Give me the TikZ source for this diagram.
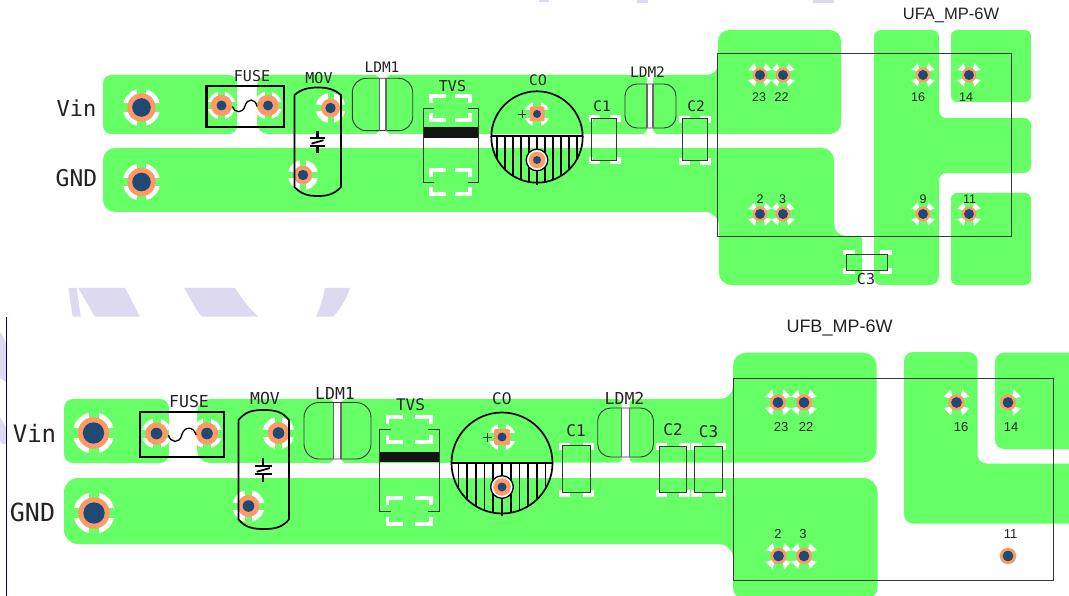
\documentclass[tikz,border=0pt]{standalone}
\usepackage{fontspec}
\setmainfont{Liberation Sans}
\newfontfamily\pcbmono{DejaVu Sans Mono}
\newfontfamily\plainzero{DejaVu Sans}
\definecolor{cu}{HTML}{66FF66}
\definecolor{padorange}{HTML}{FF9966}
\definecolor{padblue}{HTML}{1F4A73}
\definecolor{mark}{HTML}{DCD9F0}
\definecolor{ink}{HTML}{222222}
\tikzset{
  copper/.style={fill=cu,draw=none},
  mk/.style={fill=mark,draw=none},
  whitebar/.style={draw=white,line width=3.6pt,line cap=butt,line join=miter},
  thinline/.style={draw=ink!90,line width=0.9pt},
  sideline/.style={draw=black!60,line width=1.1pt},
  heavy/.style={draw=black,line width=1.7pt},
  wave/.style={draw=black,line width=1.3pt},
  hatchline/.style={draw=black,line width=1.7pt},
  silk/.style={inner sep=0pt,text=ink,font=\pcbmono},
  num/.style={inner sep=0pt,text=ink}
}
% text: name x y size text
\newcommand{\silktext}[5]{\node[silk] (#1) at (#2,#3) {\fontsize{#4}{#4}\selectfont #5};}
\newcommand{\numtext}[5]{\node[num] (#1) at (#2,#3) {\fontsize{#4}{#4}\selectfont #5};}
% pad: x y rorange rblue
\newcommand{\padd}[4]{\fill[padorange] (#1,#2) circle[radius=#3]; \fill[padblue] (#1,#2) circle[radius=#4];}
% ring thermal: x y r spoke
\newcommand{\ringth}[4]{\fill[white] (#1,#2) circle[radius=#3];
  \fill[cu] (#1-#4/2,#2-#3-0.5) rectangle (#1+#4/2,#2+#3+0.5);
  \fill[cu] (#1-#3-0.5,#2-#4/2) rectangle (#1+#3+0.5,#2+#4/2);}
% corner wedge: x y sx sy L
\newcommand{\cornerw}[5]{\fill[white] (#1+#3*0.46*#5,#2+#4*1.03*#5) -- (#1+#3*1.03*#5,#2+#4*0.46*#5) -- (#1+#3*0.28*#5,#2+#4*0.28*#5) -- cycle;}
\newcommand{\cornerws}[3]{\cornerw{#1}{#2}{1}{1}{#3}\cornerw{#1}{#2}{1}{-1}{#3}\cornerw{#1}{#2}{-1}{1}{#3}\cornerw{#1}{#2}{-1}{-1}{#3}}
% brackets: outer x0 y0 x1 y1 armx army
\newcommand{\bracketset}[6]{
  \draw[whitebar] (#1+#5,#2+1.8) -- (#1+1.8,#2+1.8) -- (#1+1.8,#2+#6);
  \draw[whitebar] (#3-#5,#2+1.8) -- (#3-1.8,#2+1.8) -- (#3-1.8,#2+#6);
  \draw[whitebar] (#1+#5,#4-1.8) -- (#1+1.8,#4-1.8) -- (#1+1.8,#4-#6);
  \draw[whitebar] (#3-#5,#4-1.8) -- (#3-1.8,#4-1.8) -- (#3-1.8,#4-#6);}
% LDM gap: x0 x1 y0 y1
\newcommand{\ldmgap}[4]{\fill[white] (#1-3.5,#3) -- (#1,#3+3) -- (#1,#4-3) -- (#1-3.5,#4) -- (#2+3.5,#4) -- (#2,#4-3) -- (#2,#3+3) -- (#2+3.5,#3) -- cycle;}
% LDM outline: x0 y0 x1 y1 stripx0 stripx1 r
\newcommand{\ldmbody}[7]{\draw[thinline,rounded corners=#7] (#1,#2) rectangle (#3,#4);
  \draw[sideline] (#5,#2) -- (#5,#4); \draw[sideline] (#6,#2) -- (#6,#4);}
% TVS: x0 y0 x1 y1 bandy0 bandy1 stub
\newcommand{\tvsbody}[7]{
  \draw[thinline] (#1+#7,#2) -- (#1,#2) -- (#1,#4) -- (#1+#7,#4);
  \draw[thinline] (#3-#7,#2) -- (#3,#2) -- (#3,#4) -- (#3-#7,#4);
  \fill[black!92] (#1,#5) rectangle (#3,#6);}
% MOV symbol: x y scale
\newcommand{\movsym}[3]{\begin{scope}[shift={(#1,#2)},scale=#3]
  \draw[draw=black,line width=2.2pt] (0,-11) -- (0,-3.8) (-7.5,-3.8) -- (7.5,-3.8)
   (-7.5,3.8) -- (7.5,3.8) (0,3.8) -- (0,11);
  \draw[draw=black,line width=1.8pt] (-6,1.6) -- (6,-1.8);
  \end{scope}}
% MOV outline: x0 x1 ytop ysidetop ysidebot ybot
\newcommand{\movline}[6]{\draw[heavy] (#1,#4)
  .. controls (#1+7,#3+1.5) and (#1+14,#3) .. ({(#1+#2)/2},#3)
  .. controls (#2-14,#3) and (#2-7,#3+1.5) .. (#2,#4) -- (#2,#5)
  .. controls (#2-7,#6-1.5) and (#2-14,#6) .. ({(#1+#2)/2},#6)
  .. controls (#1+14,#6) and (#1+7,#6-1.5) .. (#1,#5) -- cycle;}
% C0 body: cx cy r hy spacing
\newcommand{\czero}[5]{
  \begin{scope}
   \clip (#1-#3,#4) rectangle (#1+#3,#2+#3);
   \clip (#1,#2) circle[radius=#3];
   \foreach \k in {-5,...,5}{\draw[hatchline] (#1+\k*#5,#4) -- (#1+\k*#5,#2+#3);}
  \end{scope}
  \draw[heavy] (#1,#2) circle[radius=#3];
  \draw[heavy] (#1-#3,#4) -- (#1+#3,#4);
  \draw[hatchline] (#1,#2+#3-3) -- (#1,#2+#3+2);}
\begin{document}
\begin{tikzpicture}[x=1pt,y=-1pt]
\useasboundingbox (0,0) rectangle (1069,596);
\clip (0,0) rectangle (1069,596);
\fill[white] (0,0) rectangle (1069,596);
% pale background marks
\fill[mk] (68.3,288) -- (76.7,288) -- (80.7,316.7) -- (72.7,316.7) -- cycle;
\fill[mk] (78.3,288) -- (125,288) -- (140,316.7) -- (95,316.7) -- cycle;
\fill[mk] (184.3,288) -- (235,288) .. controls (242,299) and (250,309) .. (258.3,316.7) -- (201.7,316.7) .. controls (195,308) and (190,298) .. (184.3,288) -- cycle;
\fill[mk] (325,288) -- (350,288) .. controls (346,300) and (340,309) .. (333.3,316.7) -- (316,316.7) .. controls (320,308) and (323,298) .. (325,288) -- cycle;
\fill[mk] (0,332) .. controls (3,336) and (5,340) .. (6,345) -- (6,382) -- (0,378) -- cycle;
\fill[mk] (0,417) -- (6,427) -- (6,444) -- (2,444) -- (0,440) -- cycle;
\fill[mk] (539,0) rectangle (549,2.5);
\fill[mk] (637,0) rectangle (648,3);
\fill[mk] (813,0) rectangle (834,3);
\draw[draw=blue!55!black,line width=1pt] (6.3,317) -- (6.3,596);

% ===== top board copper =====
\path[copper,rounded corners=8] (103,75) rectangle (237,134);
\path[copper,rounded corners=11] (257,75) -- (718,75) -- (718,30) -- (841,30) -- (841,134) -- (257,134) -- cycle;
\path[copper,rounded corners=12] (103,148) -- (834,148) -- (834,236) [rounded corners=3] -- (862,236) [rounded corners=12] -- (862,285) -- (719,285) [rounded corners=14] -- (719,212) [rounded corners=12] -- (103,212) -- cycle;
\path[copper,rounded corners=7] (874,30) -- (939,30) -- (939,118) -- (1031,118) -- (1031,173) -- (939,173) [rounded corners=9] -- (939,285) [rounded corners=7] -- (874,285) -- cycle;
\path[copper,rounded corners=6] (951,30) rectangle (1031,102);
\path[copper,rounded corners=6] (951,193) rectangle (1031,285);

% ===== bottom board copper =====
\path[copper,rounded corners=9] (64,399) rectangle (169,463);
\path[copper,rounded corners=13] (197,399) -- (733,399) -- (733,352.7) -- (876.5,352.7) -- (876.5,462.5) -- (197,463) -- cycle;
\path[copper,rounded corners=14] (64,478) -- (877.5,478) -- (877.5,601) -- (733,601) -- (733,544) -- (64,544) -- cycle;
\path[copper,rounded corners=9] (904,352) -- (977.5,352) -- (977.5,463.5) -- (1090,463.5) -- (1090,523.5) -- (904,523.5) -- cycle;
\path[copper,rounded corners=9] (995,352.7) rectangle (1090,449);

% ===== thermals top =====
\ringth{141.5}{107.5}{18.7}{8.7}
\ringth{141.5}{182}{18.7}{8.7}
\ringth{221.5}{105.5}{14}{7}
\ringth{268}{105.5}{14}{7}
\ringth{330.5}{108}{15}{6}
\ringth{303}{175}{15}{6}
\ringth{537}{114}{12.5}{7.5}
\cornerws{760}{75}{11.3}\cornerws{783}{75}{11.3}\cornerws{923}{75}{11.3}\cornerws{969}{75}{11.3}
\cornerws{760}{214}{11.3}\cornerws{783}{214}{11.3}\cornerws{923}{214}{11.3}\cornerws{969}{214}{11.3}
% ===== thermals bottom =====
\ringth{93.5}{433}{20.7}{10}
\ringth{94}{513}{20.7}{10}
\ringth{156.5}{433.5}{15}{8}
\ringth{207}{433.5}{15}{8}
\ringth{278.5}{433}{16}{7}
\ringth{248.5}{506}{16}{7}
\ringth{502}{437}{13.5}{8}
\cornerws{778}{402.5}{12.5}\cornerws{804}{402.5}{12.5}\cornerws{956.5}{402.5}{12.5}
\cornerw{1008}{402.5}{1}{1}{12.5}\cornerw{1008}{402.5}{1}{-1}{12.5}
\cornerws{778.5}{556}{12.5}\cornerws{804}{556}{12.5}

% gaps in copper
\fill[white] (237,75) rectangle (257,134);
\fill[white] (169,399) rectangle (197,463);
\ldmgap{379.5}{386}{75}{134}
\ldmgap{647}{653}{75}{134}
\ldmgap{333.5}{341}{399}{463}
\ldmgap{621.7}{629.5}{399}{463}

% white pad brackets
\bracketset{429}{94.5}{472}{122}{17}{9}
\bracketset{429}{168}{472}{196}{17}{9}
\bracketset{385.5}{415}{432.5}{444}{17.5}{9}
\bracketset{385.5}{496}{432.5}{525.5}{17.5}{9}
\bracketset{589}{115}{620.7}{164}{11}{7}
\bracketset{679}{115.7}{710.7}{165}{11}{7}
\bracketset{843}{250}{891.5}{274}{12}{5.5}
\bracketset{559}{442.7}{593.5}{496.5}{11}{7}
\bracketset{656}{443}{690}{496.5}{11}{7}
\bracketset{690.5}{443}{726}{496.5}{11}{7}

% ===== pads top =====
\padd{141.5}{107.5}{14.2}{9.3}
\padd{141.5}{182}{14.2}{9.3}
\padd{221.5}{105.5}{10.7}{5}
\padd{268}{105.5}{10.7}{5}
\padd{330.5}{108}{9.4}{5.2}
\padd{303}{175}{9.4}{5.2}
\foreach \px/\py in {760/75,783/75,923/75,969/75,760/214,783/214,923/214,969/214}{\padd{\px}{\py}{7.4}{5}}
% ===== pads bottom =====
\padd{93.5}{433}{15.7}{10.7}
\padd{94}{513}{15.7}{10.7}
\padd{156.5}{433.5}{11.2}{5.8}
\padd{207}{433.5}{11.2}{5.8}
\padd{278.5}{433}{11}{5.8}
\padd{248.5}{506}{11}{5.8}
\foreach \px/\py in {778/402.5,804/402.5,956.5/402.5,1008/402.5,778.5/556,804/556,1008/556}{\padd{\px}{\py}{8.2}{5.4}}

% ===== fuses =====
\draw[draw=black,line width=2.2pt] (206.5,86) rectangle (284,127);
\draw[wave] (232.7,106.5) .. controls (234,113) and (243,114) .. (245,106) .. controls (247,98) and (255.5,98) .. (257,106.5);
\draw[draw=black,line width=2.2pt] (140,412) rectangle (224,457);
\draw[wave] (168.5,435) .. controls (170,443) and (180,444) .. (181.7,435) .. controls (184,426) and (194,426) .. (196,435);

% ===== MOV =====
\movline{294.5}{341}{87.5}{95}{187}{196}
\movsym{317.5}{142}{1}
\movline{238.5}{289}{410}{420}{519.5}{529}
\movsym{263.3}{470}{1.1}

% ===== LDM =====
\ldmbody{352.3}{78.3}{412.7}{130.7}{379.5}{386}{14}
\ldmbody{625}{84}{676}{128}{647}{653}{12}
\ldmbody{304}{402.5}{371}{459}{333.5}{341}{15}
\ldmbody{597.7}{408}{653.5}{457}{621.7}{629.5}{13}

% ===== TVS =====
\tvsbody{423.5}{108}{478}{182}{127.5}{138}{10.5}
\tvsbody{379.5}{429}{439}{511}{452}{462}{11.5}

% ===== C0 =====
\czero{537}{137}{45.7}{136}{8}
\fill[padorange,rounded corners=1.5] (529.5,106.5) rectangle (544.5,121.5);
\fill[padblue] (537,114) circle[radius=4];
\draw[thinline] (518,114.5) -- (526,114.5) (522,110.5) -- (522,118.5);
\draw[draw=black,line width=1.3pt,fill=white] (537,160) circle[radius=10.8];
\padd{537}{160}{8.3}{4}
\czero{502}{463}{50.5}{463}{8.7}
\fill[padorange,rounded corners=1.5] (494,429) rectangle (510,445);
\fill[padblue] (502,437) circle[radius=4.5];
\draw[thinline] (482.5,437.5) -- (491.5,437.5) (487,433) -- (487,442);
\draw[draw=black,line width=1.3pt,fill=white] (502,487) circle[radius=11.3];
\padd{502}{487}{8.8}{4.5}

% ===== small capacitors and module outlines =====
\draw[thinline] (591.5,118) rectangle (616.5,160);
\draw[thinline] (682.7,118) rectangle (707.7,160);
\draw[thinline] (846,254) rectangle (887.5,270.5);
\draw[thinline] (562.7,445.7) rectangle (590.5,492.5);
\draw[thinline] (659,446) rectangle (686,492.5);
\draw[thinline] (694,446) rectangle (722,492.5);
\draw[thinline] (717.5,53) rectangle (1011.7,236);
\draw[thinline] (733.5,378.3) rectangle (1053.5,580);

% ===== silk labels, top =====
\silktext{vinA}{76.5}{108}{22}{Vin}
\silktext{gndA}{76.5}{178}{23}{GND}
\silktext{fuseA}{252}{76.5}{15}{FUSE}
\silktext{movA}{319}{78.5}{15}{MOV}
\silktext{ldmoneA}{382}{67}{14.5}{LDM1}
\silktext{tvsA}{452.5}{86}{15}{TVS}
\silktext{czeroA}{538}{80.5}{14.5}{C{\plainzero 0}}
\silktext{ldmtwoA}{647.5}{72.5}{14.5}{LDM2}
\silktext{coneA}{602}{106}{14.5}{C1}
\silktext{ctwoA}{696}{106.5}{14.5}{C2}
\silktext{cthreeA}{866}{279}{15}{C3}
% ===== silk labels, bottom =====
\silktext{vinB}{34.5}{433}{24}{Vin}
\silktext{gndB}{32.5}{512}{25}{GND}
\silktext{fuseB}{189}{401}{16.5}{FUSE}
\silktext{movB}{265}{398}{16.5}{MOV}
\silktext{ldmoneB}{335}{393}{16.5}{LDM1}
\silktext{tvsB}{410.5}{405}{16}{TVS}
\silktext{czeroB}{502}{399}{16}{C{\plainzero 0}}
\silktext{ldmtwoB}{624.5}{398}{16.5}{LDM2}
\silktext{coneB}{576}{431}{16}{C1}
\silktext{ctwoB}{673}{430}{16}{C2}
\silktext{cthreeB}{708.5}{432}{16}{C3}
% ===== module labels =====
\numtext{ufa}{951}{15}{16.5}{UFA\_MP-6W}
\numtext{ufb}{839.5}{328}{18}{UFB\_MP-6W}
\numtext{pAa}{759}{97}{12.5}{23}
\numtext{pAb}{781.5}{97}{12.5}{22}
\numtext{pAc}{918}{97}{12.5}{16}
\numtext{pAd}{966}{97}{12.5}{14}
\numtext{pAe}{760}{199}{12.5}{2}
\numtext{pAf}{782.5}{199}{12.5}{3}
\numtext{pAg}{923}{199}{12.5}{9}
\numtext{pAh}{969.5}{199}{12.5}{11}
\numtext{pBa}{781}{427}{13}{23}
\numtext{pBb}{806}{427}{13}{22}
\numtext{pBc}{961}{427}{13}{16}
\numtext{pBd}{1011}{427}{13}{14}
\numtext{pBe}{778}{534}{13}{2}
\numtext{pBf}{803}{534}{13}{3}
\numtext{pBg}{1010.5}{534}{13}{11}
\end{tikzpicture}
\end{document}
